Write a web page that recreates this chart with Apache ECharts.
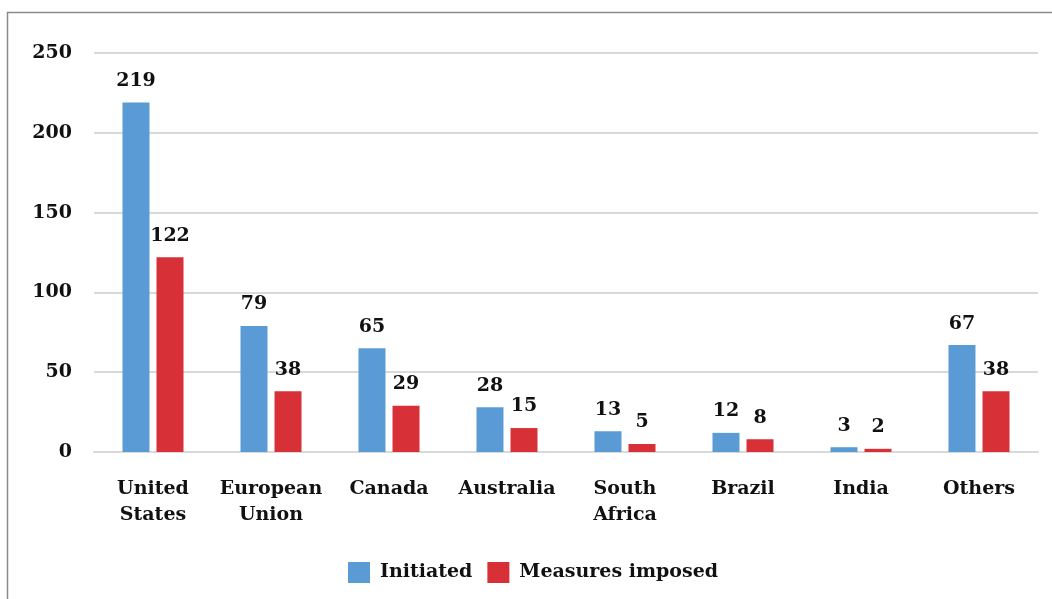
<!DOCTYPE html>
<html>
<head>
<meta charset="utf-8">
<script src="https://cdn.jsdelivr.net/npm/echarts@6/dist/echarts.min.js"></script>
<style>
  html, body { margin: 0; padding: 0; background: #ffffff; }
  #chart { width: 1052px; height: 599px; }
</style>
</head>
<body>
<div id="chart"></div>
<script>
// Anti-dumping cases by reporting member
const categories = ['United\nStates', 'European\nUnion', 'Canada', 'Australia', 'South\nAfrica', 'Brazil', 'India', 'Others'];
const initiated = [219, 79, 65, 28, 13, 12, 3, 67];
const measuresImposed = [122, 38, 29, 15, 5, 8, 2, 38];
const seriesNames = ['Initiated', 'Measures imposed'];

const FONT = '"DejaVu Serif", "Liberation Serif", serif';
const textBase = { fontFamily: FONT, fontWeight: 'bold', color: '#111111', fontSize: 19 };

const chart = echarts.init(document.getElementById('chart'), null, { renderer: 'canvas' });

chart.setOption({
  backgroundColor: '#ffffff',
  animation: false,
  graphic: [{
    type: 'rect',
    shape: { x: 7.5, y: 12.5, width: 1200, height: 800 },
    style: { fill: 'none', stroke: '#8a8a8a', lineWidth: 1.5 },
    silent: true
  }],
  grid: { left: 94, right: 14, top: 53, bottom: 147, containLabel: false },
  legend: {
    data: seriesNames,
    bottom: 11,
    left: 343,
    itemWidth: 22,
    itemHeight: 21,
    itemGap: 15,
    icon: 'rect',
    textStyle: Object.assign({}, textBase, { padding: [0, 0, 0, 5] })
  },
  xAxis: {
    type: 'category',
    data: categories,
    axisLine: { show: true, lineStyle: { color: '#d9d9d9', width: 2 } },
    axisTick: { show: false },
    axisLabel: Object.assign({}, textBase, { margin: 24, lineHeight: 26, interval: 0 })
  },
  yAxis: {
    type: 'value',
    min: 0,
    max: 250,
    interval: 50,
    axisLine: { show: false },
    axisTick: { show: false },
    splitLine: { lineStyle: { color: '#d9d9d9', width: 2 } },
    axisLabel: Object.assign({}, textBase, { margin: 22 })
  },
  series: [
    {
      name: seriesNames[0],
      type: 'bar',
      data: initiated,
      barWidth: 27,
      barGap: '26%',
      itemStyle: { color: '#5b9bd5' },
      label: Object.assign({ show: true, position: 'top', distance: 12 }, textBase)
    },
    {
      name: seriesNames[1],
      type: 'bar',
      data: measuresImposed,
      barWidth: 27,
      itemStyle: { color: '#d73137' },
      label: Object.assign({ show: true, position: 'top', distance: 12 }, textBase)
    }
  ]
});
</script>
</body>
</html>
